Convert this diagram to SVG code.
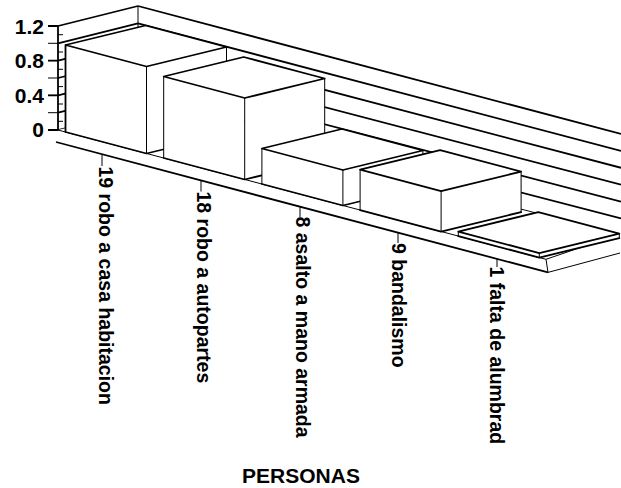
<svg xmlns="http://www.w3.org/2000/svg" width="621" height="488" viewBox="0 0 621 488">
<style>
.f{fill:#fff;stroke:none}
.e{fill:none;stroke:#000;stroke-width:1.8;stroke-linejoin:round;stroke-linecap:round}
.v{fill:none;stroke:#000;stroke-width:1}
.g{fill:none;stroke:#000;stroke-width:1.8}
.t{font-family:"Liberation Sans",Arial,sans-serif;font-weight:bold;fill:#000}
</style>
<rect width="621" height="488" fill="#fff"/>
<g id="walls">
<polygon class="f" points="58,26 138,6 138,110.5 58,130"/>
<path class="g" d="M58,26 L138,6 M58,43.3 L138,23.4 M58,60.6 L138,40.8 M58,78 L138,58.3 M58,95.3 L138,75.7 M58,112.7 L138,93.1 M58,130 L138,110.5"/>
<path class="v" d="M138,6 V110.5"/>
<path class="g" d="M138,6 L621,134 M138,23.4 L621,150.9 M138,40.8 L621,167.8 M138,58.3 L621,184.7 M138,75.7 L621,201.6 M138,93.1 L621,218.5 M138,110.5 L618,234.6"/>
</g>
<g id="floor">
<polygon class="f" points="58,130 546,259.3 618,234.6 138,110.5"/>
<path class="v" d="M58,130 L546,259.3 L618,234.6"/>
<path class="g" d="M56,142 L548,272.4"/>
<path class="v" d="M546,259.3 L548,272.4 L620,253"/>
</g>
<g id="axis">
<path class="g" d="M58,26 V130"/>
<path class="v" d="M48,26 H58 M48,43.3 H58 M48,60.6 H58 M48,78 H58 M48,95.3 H58 M48,112.7 H58 M48,130 H58 M58,34.7 H63 M58,52 H63 M58,69.3 H63 M58,86.6 H63 M58,104 H63 M58,121.3 H63"/>
<path class="g" d="M48,26 H58 M48,60.6 H58 M48,95.3 H58 M48,130 H58"/>
<text class="t" x="44" y="33.5" font-size="21" text-anchor="end">1.2</text>
<text class="t" x="44" y="68" font-size="21" text-anchor="end">0.8</text>
<text class="t" x="44" y="102.5" font-size="21" text-anchor="end">0.4</text>
<text class="t" x="44" y="137.3" font-size="21" text-anchor="end">0</text>
</g>
<g id="bar1">
<polygon class="f" points="65.5,45 146.5,66.5 146.5,153.5 65.5,132"/>
<polygon class="f" points="65.5,45 145.5,25.5 226.5,47 146.5,66.5"/>
<polygon class="f" points="146.5,66.5 226.5,47 226.5,134 146.5,153.5"/>
<path class="e" d="M65.5,132 L146.5,153.5 L226.5,134 M146.5,66.5 L65.5,45 L145.5,25.5 L226.5,47 L146.5,66.5 M65.5,45 V132"/>
<path class="v" d="M146.5,66.5 V153.5 M226.5,47 V134"/>
</g>
<g id="bar2">
<polygon class="f" points="163.7,76.5 244.7,98 244.7,179.5 163.7,158"/>
<polygon class="f" points="163.7,76.5 243.7,57 324.7,78.5 244.7,98"/>
<polygon class="f" points="244.7,98 324.7,78.5 324.7,160 244.7,179.5"/>
<path class="e" d="M163.7,158 L244.7,179.5 L324.7,160 M244.7,98 L163.7,76.5 L243.7,57 L324.7,78.5 L244.7,98"/>
<path class="v" d="M163.7,76.5 V158 M244.7,98 V179.5 M324.7,78.5 V160"/>
</g>
<g id="bar3">
<polygon class="f" points="261.9,148.5 342.9,170 342.9,205.5 261.9,184"/>
<polygon class="f" points="261.9,148.5 341.9,129 422.9,150.5 342.9,170"/>
<polygon class="f" points="342.9,170 422.9,150.5 422.9,186 342.9,205.5"/>
<path class="e" d="M261.9,184 L342.9,205.5 L422.9,186 M342.9,170 L261.9,148.5 L341.9,129 L422.9,150.5 L342.9,170"/>
<path class="v" d="M261.9,148.5 V184 M342.9,170 V205.5 M422.9,150.5 V186"/>
</g>
<g id="bar4">
<polygon class="f" points="360.1,169.6 441.1,191.1 441.1,231.6 360.1,210.1"/>
<polygon class="f" points="360.1,169.6 440.1,150.1 521.1,171.6 441.1,191.1"/>
<polygon class="f" points="441.1,191.1 521.1,171.6 521.1,212.1 441.1,231.6"/>
<path class="e" d="M360.1,210.1 L441.1,231.6 L521.1,212.1 M441.1,191.1 L360.1,169.6 L440.1,150.1 L521.1,171.6 L441.1,191.1"/>
<path class="v" d="M360.1,169.6 V210.1 M441.1,191.1 V231.6 M521.1,171.6 V212.1"/>
</g>
<g id="bar5">
<polygon class="f" points="458.3,231.6 539.3,253.1 539.3,257.6 458.3,236.1"/>
<polygon class="f" points="458.3,231.6 538.3,212.1 619.3,233.6 539.3,253.1"/>
<polygon class="f" points="539.3,253.1 619.3,233.6 619.3,238.1 539.3,257.6"/>
<path class="e" d="M458.3,236.1 L539.3,257.6 L619.3,238.1 M539.3,253.1 L458.3,231.6 L538.3,212.1 L619.3,233.6 L539.3,253.1"/>
<path class="v" d="M458.3,231.6 V236.1 M539.3,253.1 V257.6 M619.3,233.6 V238.1"/>
</g>
<g id="categories">
<path class="v" d="M102,154.2 V166 M201,180.4 V191.5 M300,206.7 V217 M398,232.6 V243 M497,258.9 V267"/>
<text class="t" font-size="19.5" transform="translate(98.5,166.5) rotate(90)">19 robo a casa habitacion</text>
<text class="t" font-size="19.5" transform="translate(197,191.5) rotate(90)">18 robo a autopartes</text>
<text class="t" font-size="19.5" transform="translate(295.5,216.5) rotate(90)">8 asalto a mano armada</text>
<text class="t" font-size="19.5" transform="translate(391.5,243) rotate(90)">9 bandalismo</text>
<text class="t" font-size="19.5" transform="translate(489.7,266.5) rotate(90)">1 falta de alumbrad</text>
</g>
<g id="title">
<text class="t" x="301" y="483" font-size="21" text-anchor="middle">PERSONAS</text>
</g>
</svg>
